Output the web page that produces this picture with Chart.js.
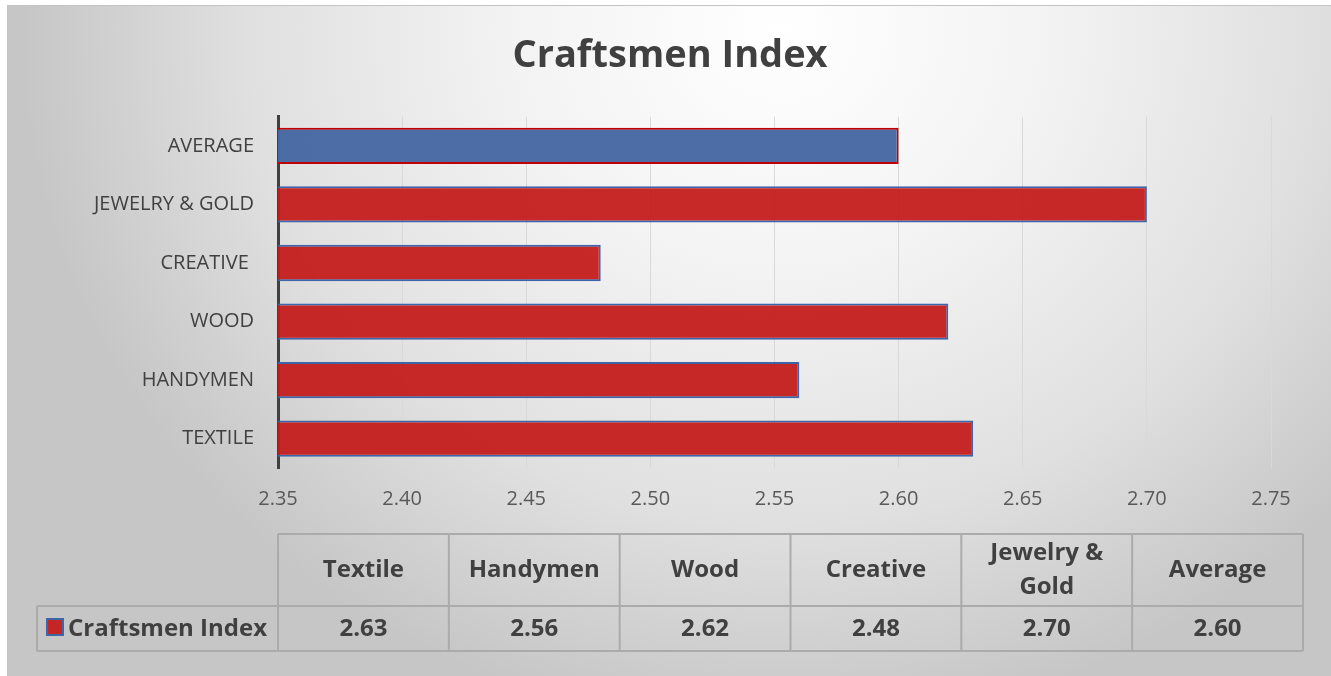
<!DOCTYPE html>
<html>
<head>
<meta charset="utf-8">
<title>Craftsmen Index</title>
<script src="https://cdn.jsdelivr.net/npm/chart.js@4.4.1/dist/chart.umd.min.js"></script>
<style>
    html, body { margin: 0; padding: 0; background: #fff; }
    canvas { display: block; }
</style>
</head>
<body>
<canvas id="grafico" width="1331" height="676"></canvas>
<script>
// DATA
const categories = ['Textile', 'Handymen', 'Wood', 'Creative', 'Jewelry & Gold', 'Average'];
const axisLabels = ['TEXTILE', 'HANDYMEN', 'WOOD', 'CREATIVE ', 'JEWELRY & GOLD', 'AVERAGE'];
const tableHeaders = [['Textile'], ['Handymen'], ['Wood'], ['Creative'], ['Jewelry &', 'Gold'], ['Average']];
const indexValues = [2.63, 2.56, 2.62, 2.48, 2.70, 2.60];
const xTicks = [2.35, 2.40, 2.45, 2.50, 2.55, 2.60, 2.65, 2.70, 2.75];
const seriesName = 'Craftsmen Index';

const FONT = "'Open Sans', sans-serif";
const RED = 'rgba(196, 28, 28, 0.94)';
const BLUE = 'rgba(70, 104, 163, 0.97)';

// last bar (the average) is blue with a red outline, the rest the other way round
const fills = categories.map((c, i) => i === categories.length - 1 ? BLUE : RED);
const borders = categories.map((c, i) => i === categories.length - 1 ? '#c00000' : '#3f64a8');

// gradient background behind everything
const fundo = {
    id: 'fundo',
    beforeDraw(chart) {
        const c = chart.ctx;
        const w = chart.width, h = chart.height;
        c.save();
        c.fillStyle = '#fff';
        c.fillRect(0, 0, w, h);

        const cx = 780, cy = 30, rx = 760, ry = 700;
        c.translate(cx, cy);
        c.scale(1, ry / rx);
        const g = c.createRadialGradient(0, 0, 0, 0, 0, rx);
        g.addColorStop(0, '#ffffff');
        g.addColorStop(0.35, '#f3f3f3');
        g.addColorStop(0.7, '#e0e0e0');
        g.addColorStop(1, '#c6c6c6');
        c.fillStyle = g;
        c.fillRect(7 - cx, (5 - cy) * rx / ry, w, h * rx / ry);
        c.restore();

        c.save();
        c.strokeStyle = '#c4c4c4';
        c.lineWidth = 1;
        c.beginPath();
        c.moveTo(7.5, h);
        c.lineTo(7.5, 5.5);
        c.lineTo(w, 5.5);
        c.stroke();
        c.restore();
    }
};

// data table under the axis
const tabela = {
    id: 'tabela',
    afterDraw(chart) {
        const c = chart.ctx;
        const left = chart.chartArea.left;
        const right = 1303;
        const colW = (right - left) / categories.length;
        const top = 534, mid = 606, bottom = 651, legLeft = 37;

        c.save();
        c.strokeStyle = '#ababab';
        c.lineWidth = 2;
        c.beginPath();
        c.moveTo(left, top); c.lineTo(right, top);
        c.moveTo(legLeft, mid); c.lineTo(right, mid);
        c.moveTo(legLeft, bottom); c.lineTo(right, bottom);
        c.moveTo(legLeft, mid); c.lineTo(legLeft, bottom);
        for (let i = 0; i <= categories.length; i++) {
            const x = left + i * colW;
            c.moveTo(x, top);
            c.lineTo(x, bottom);
        }
        c.stroke();

        c.fillStyle = '#404040';
        c.font = 'bold 24px ' + FONT;
        c.textAlign = 'center';
        c.textBaseline = 'middle';
        for (let i = 0; i < categories.length; i++) {
            const x = left + (i + 0.5) * colW;
            const linhas = tableHeaders[i];
            const lh = 34;
            const y0 = (top + mid) / 2 - (linhas.length - 1) * lh / 2;
            linhas.forEach((t, k) => c.fillText(t, x, y0 + k * lh));
            c.fillText(indexValues[i].toFixed(2), x, (mid + bottom) / 2 + 1);
        }

        // legend key
        c.fillStyle = RED;
        c.fillRect(47, 619, 16, 16);
        c.strokeStyle = '#3f64a8';
        c.lineWidth = 2;
        c.strokeRect(47, 619, 16, 16);
        c.fillStyle = '#404040';
        c.textAlign = 'left';
        c.fillText(seriesName, 68, (mid + bottom) / 2 + 1);
        c.restore();
    }
};

const ctx = document.getElementById('grafico').getContext('2d');

const grafico = new Chart(ctx, {
    type: 'bar',
    data: {
        labels: categories,
        datasets: [{
            label: seriesName,
            data: indexValues,
            backgroundColor: fills,
            borderColor: borders,
            borderWidth: 2,
            borderSkipped: false,
            categoryPercentage: 1,
            barPercentage: 0.62
        }]
    },
    options: {
        indexAxis: 'y',
        responsive: false,
        animation: false,
        layout: { padding: { left: 69, right: 60, top: 0, bottom: 148 } },
        plugins: {
            legend: { display: false },
            tooltip: { enabled: false },
            title: {
                display: true,
                text: 'Craftsmen Index',
                color: '#404040',
                font: { family: FONT, size: 38, weight: 'bold' },
                padding: { top: 33, bottom: 38 }
            }
        },
        scales: {
            x: {
                min: xTicks[0],
                max: xTicks[xTicks.length - 1],
                afterBuildTicks(scale) {
                    scale.ticks = xTicks.map(v => ({ value: v }));
                },
                afterFit(scale) { scale.height = 60; },
                grid: { color: '#d9d9d9', lineWidth: 1, drawTicks: false },
                border: { display: false },
                ticks: {
                    color: '#595959',
                    font: { family: FONT, size: 20 },
                    padding: 19,
                    callback: v => Number(v).toFixed(2)
                }
            },
            y: {
                reverse: true,
                afterFit(scale) { scale.width = 209; },
                grid: { display: false },
                border: { color: '#404040', width: 3 },
                ticks: {
                    color: '#404040',
                    font: { family: FONT, size: 20 },
                    padding: 16,
                    callback: (v, i) => axisLabels[i]
                }
            }
        }
    },
    plugins: [fundo, tabela]
});
</script>
</body>
</html>
